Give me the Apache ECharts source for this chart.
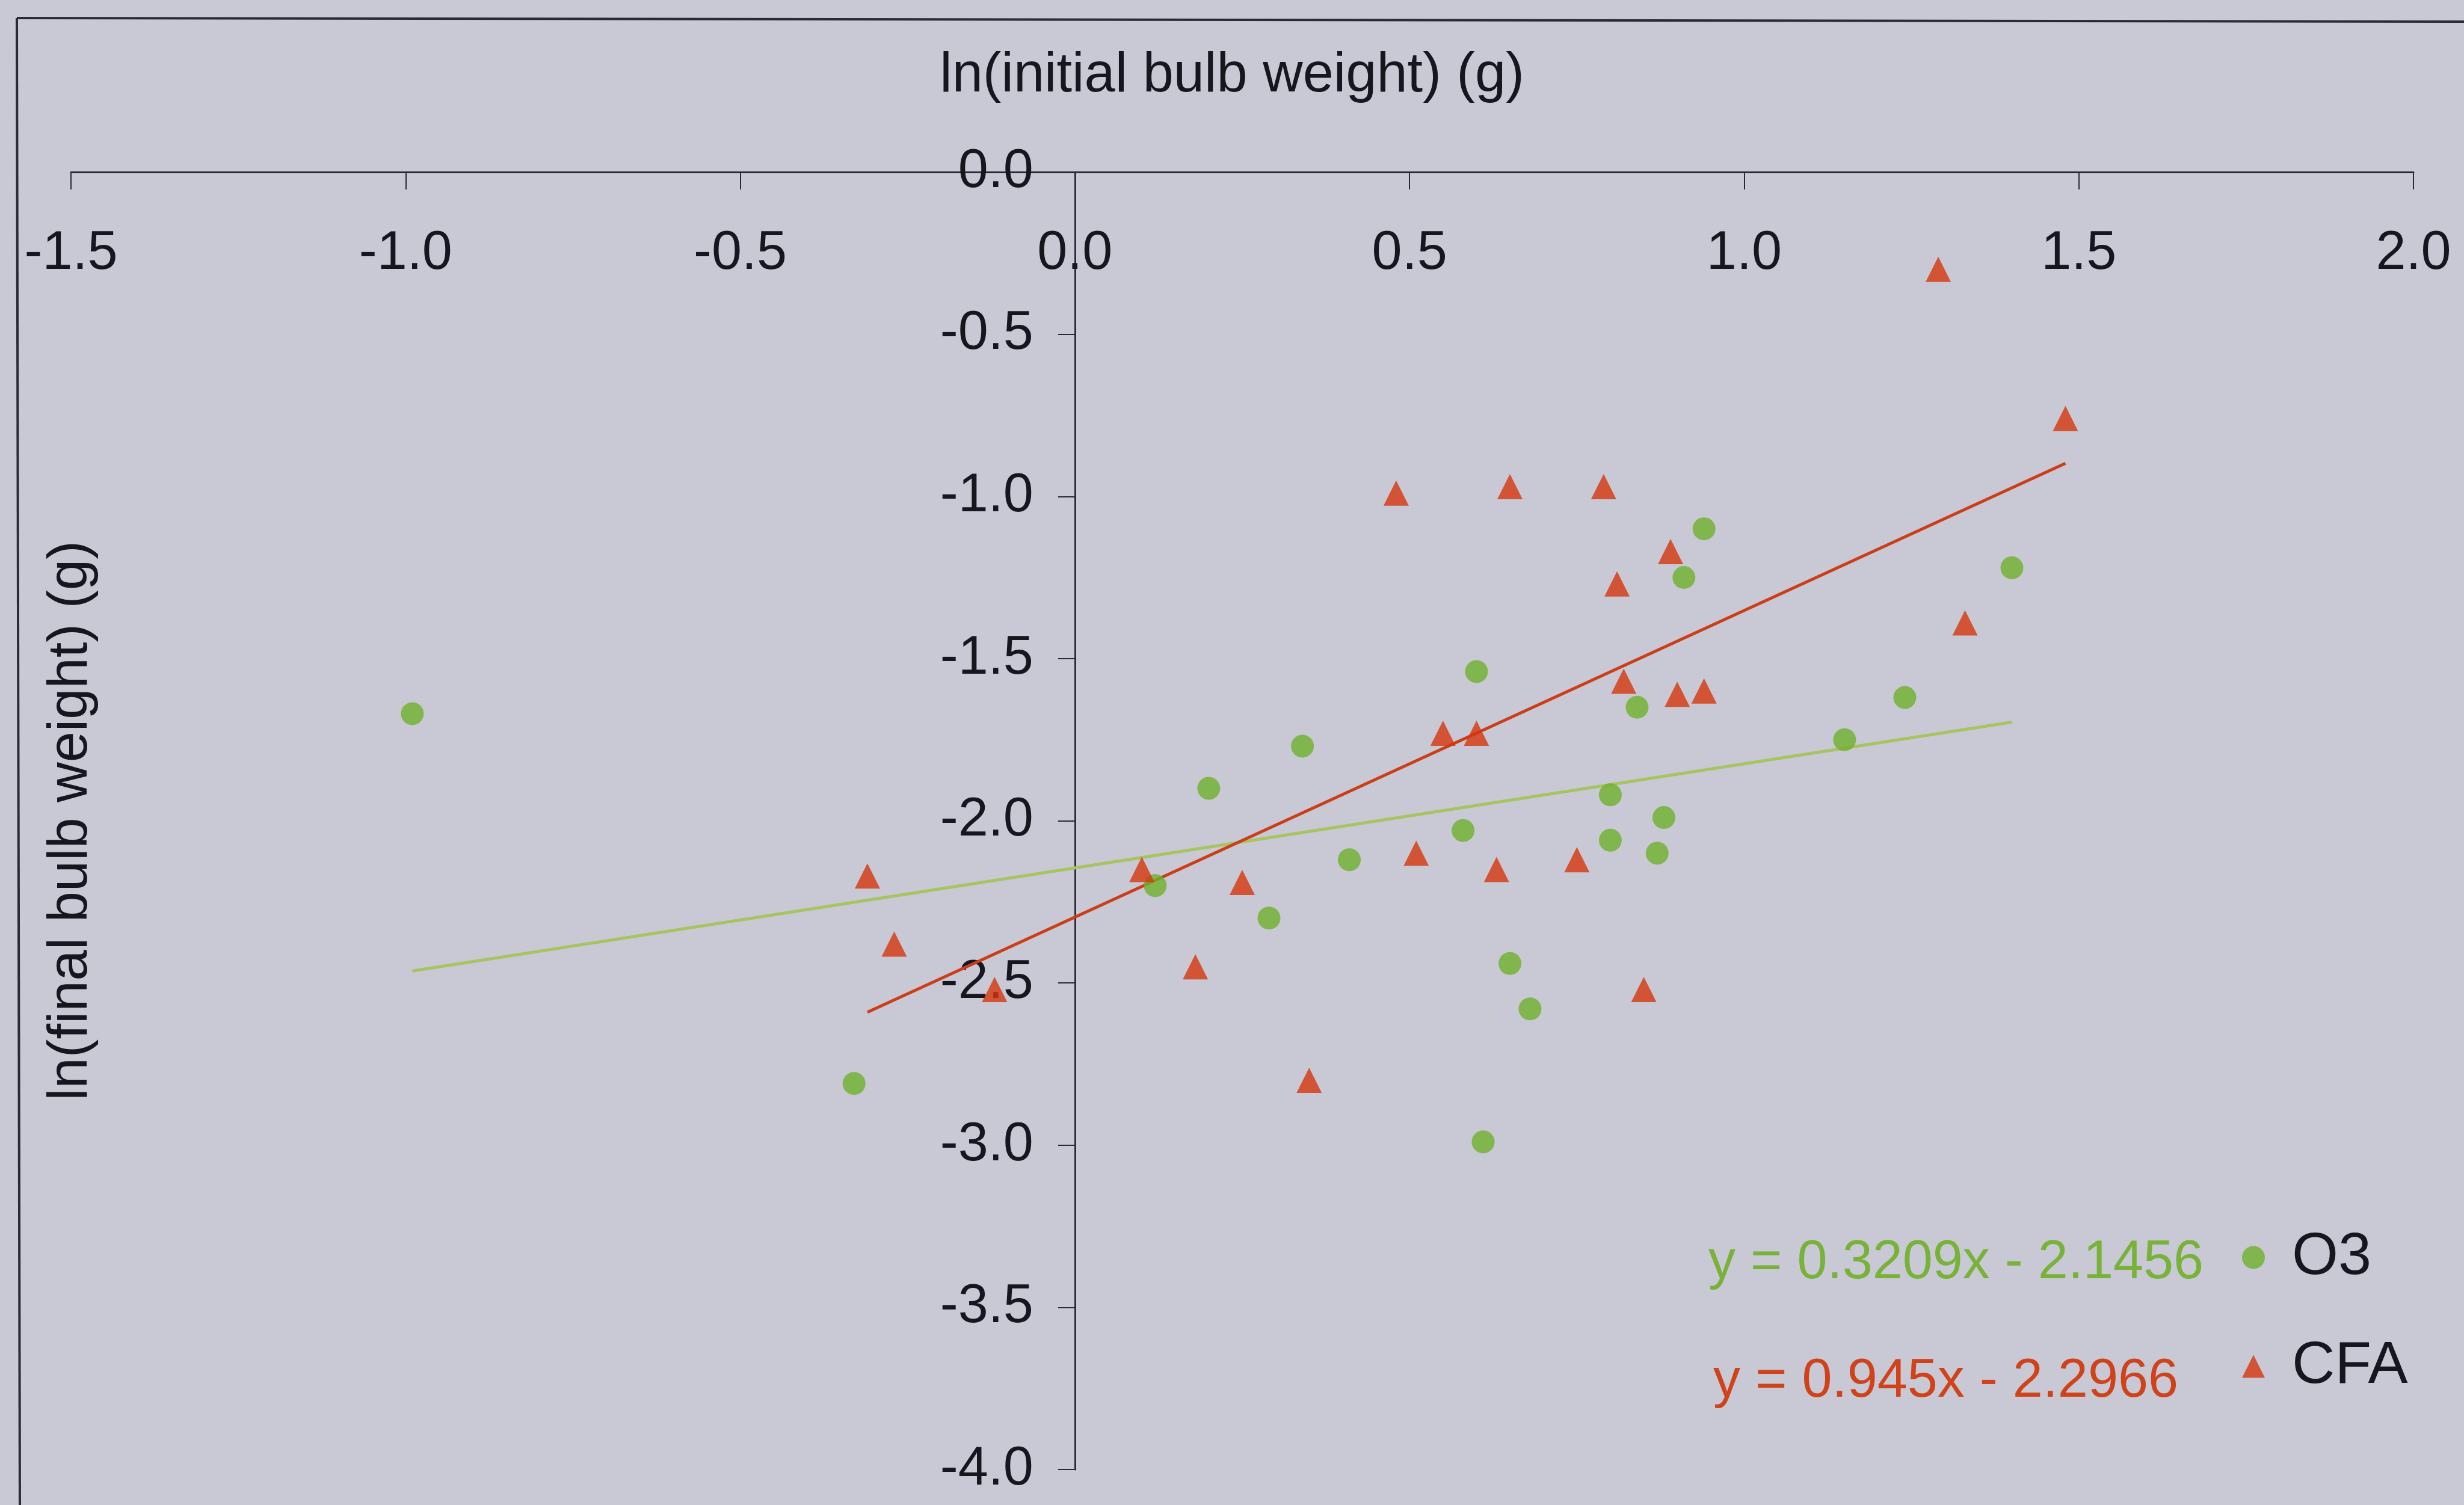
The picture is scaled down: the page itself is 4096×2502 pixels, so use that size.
<!DOCTYPE html>
<html><head><meta charset="utf-8">
<script src="https://cdn.jsdelivr.net/npm/echarts@6/dist/echarts.min.js"></script>
<style>html,body{margin:0;padding:0;background:#c8c9d4;}#c{width:4096px;height:2502px;}</style>
</head><body><div id="c"></div>
<script>
// ---- data ----
const seriesNames = ['O3', 'CFA'];
const o3Data = [
  [-0.99, -1.67], [-0.33, -2.81], [0.12, -2.20], [0.20, -1.90], [0.29, -2.30],
  [0.34, -1.77], [0.41, -2.12], [0.58, -2.03], [0.60, -1.54], [0.61, -2.99],
  [0.65, -2.44], [0.68, -2.58], [0.80, -1.92], [0.80, -2.06], [0.84, -1.65],
  [0.87, -2.10], [0.88, -1.99], [0.91, -1.25], [0.94, -1.10], [1.15, -1.75],
  [1.24, -1.62], [1.40, -1.22]
];
const cfaData = [
  [-0.31, -2.17], [-0.27, -2.38], [-0.12, -2.52], [0.10, -2.15], [0.18, -2.45],
  [0.25, -2.19], [0.35, -2.80], [0.48, -0.99], [0.51, -2.10], [0.55, -1.73],
  [0.60, -1.73], [0.63, -2.15], [0.65, -0.97], [0.75, -2.12], [0.79, -0.97],
  [0.81, -1.27], [0.82, -1.57], [0.85, -2.52], [0.89, -1.17], [0.90, -1.61],
  [0.94, -1.60], [1.29, -0.30], [1.33, -1.39], [1.48, -0.76]
];
// trendline end points (as drawn in the reference)
const o3Trend = [[-0.99, -2.463], [1.40, -1.696]];
const cfaTrend = [[-0.31, -2.590], [1.48, -0.898]];
const equations = ['y = 0.3209x - 2.1456', 'y = 0.945x - 2.2966'];
const xAxisTitle = 'ln(initial bulb weight) (g)';
const yAxisTitle = 'ln(final bulb weight) (g)';

// ---- layout / styling ----
const FONT = "'Liberation Sans', Arial, sans-serif";
const TXT = '#16161f';
const AX = '#2a2a36';
const GREEN = '#6fb02a';
const RED = '#d6360c';
const GRID = {left: 118, right: 84, top: 286, bottom: 59};
const X_MIN = -1.5, X_MAX = 2.0;
// shift the y axis from the grid's left edge to x = 0
const yAxisShift = (0 - X_MIN) / (X_MAX - X_MIN) * (4096 - GRID.left - GRID.right);

const chart = echarts.init(document.getElementById('c'), null, {renderer: 'canvas'});
chart.setOption({
  backgroundColor: '#c8c9d4',
  animation: false,
  grid: Object.assign({containLabel: false, outerBoundsMode: 'none'}, GRID),
  xAxis: {
    type: 'value', position: 'top', min: X_MIN, max: X_MAX, interval: 0.5,
    axisLine: {onZero: false, lineStyle: {color: AX, width: 3}},
    axisTick: {inside: true, length: 29, lineStyle: {color: AX, width: 2}},
    axisLabel: {inside: true, margin: 91, fontSize: 90, fontFamily: FONT, color: TXT,
      formatter: v => v.toFixed(1)},
    splitLine: {show: false},
    name: xAxisTitle, nameLocation: 'middle', nameGap: 113, nameMoveOverlap: false,
    nameTextStyle: {fontSize: 92, fontFamily: FONT, color: TXT, padding: [0, 34, 0, 0]}
  },
  yAxis: {
    type: 'value', position: 'left', offset: -yAxisShift, min: -4, max: 0, interval: 0.5,
    axisLine: {onZero: false, lineStyle: {color: AX, width: 3}},
    axisTick: {length: 28, lineStyle: {color: AX, width: 2}},
    axisLabel: {margin: 69, fontSize: 90, fontFamily: FONT, color: TXT,
      formatter: v => v.toFixed(1)},
    splitLine: {show: false},
    name: yAxisTitle, nameLocation: 'middle', nameRotate: 90, nameGap: 1622, nameMoveOverlap: false,
    nameTextStyle: {fontSize: 92, fontFamily: FONT, color: TXT}
  },
  legend: {
    data: [{name: seriesNames[0], icon: 'circle'}, {name: seriesNames[1], icon: 'triangle'}],
    orient: 'vertical', left: 3722, top: 2036, itemWidth: 38, itemHeight: 38, itemGap: 82,
    textStyle: {fontSize: 99, fontFamily: FONT, color: TXT, padding: [0, 0, 0, 40]}
  },
  series: [
    {name: 'O3 trend', type: 'line', data: o3Trend, showSymbol: false, silent: true, z: 1,
      lineStyle: {color: '#a6c460', width: 5}},
    {name: 'CFA trend', type: 'line', data: cfaTrend, showSymbol: false, silent: true, z: 1,
      lineStyle: {color: '#cc3d18', width: 5}},
    {name: seriesNames[0], type: 'scatter', data: o3Data, symbol: 'circle', symbolSize: 38, z: 3,
      itemStyle: {color: GREEN}},
    {name: seriesNames[1], type: 'scatter', data: cfaData, symbol: 'triangle', symbolSize: 42, z: 3,
      itemStyle: {color: RED}}
  ],
  graphic: [
    {type: 'line', shape: {x1: 28, y1: 30, x2: 4096, y2: 36}, style: {stroke: AX, lineWidth: 4}, silent: true},
    {type: 'line', shape: {x1: 28, y1: 30, x2: 33, y2: 2502}, style: {stroke: AX, lineWidth: 4}, silent: true},
    {type: 'text', x: 2840, y: 2100, silent: true,
      style: {text: equations[0], fontSize: 90, fontFamily: FONT, fill: '#78b238', verticalAlign: 'middle', align: 'left'}},
    {type: 'text', x: 2848, y: 2297, silent: true,
      style: {text: equations[1], fontSize: 90, fontFamily: FONT, fill: '#d0431a', verticalAlign: 'middle', align: 'left'}}
  ]
});
</script>
</body></html>
